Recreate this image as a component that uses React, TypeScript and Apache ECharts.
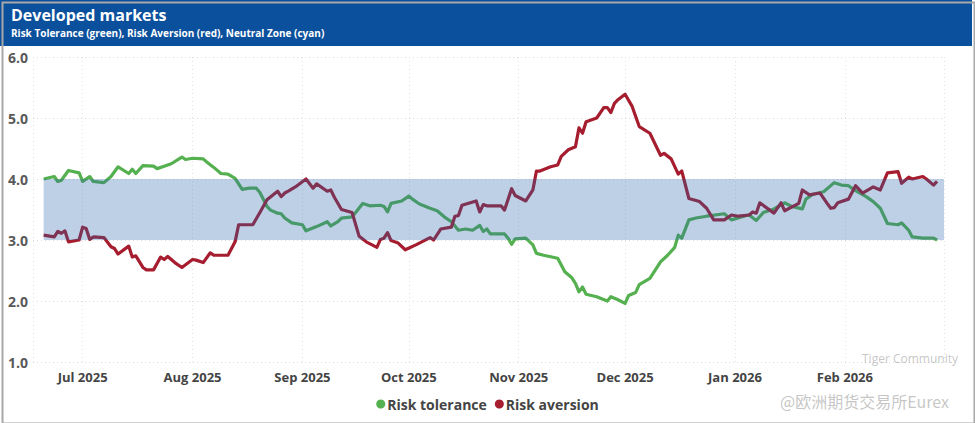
import React, { useEffect, useRef } from "react";
import * as echarts from "echarts";

const TITLE = "Developed markets";
const SUBTITLE = "Risk Tolerance (green), Risk Aversion (red), Neutral Zone (cyan)";
const SERIES_NAMES = ["Risk tolerance", "Risk aversion"];
const MONTHS = ["Jan", "Feb", "Mar", "Apr", "May", "Jun", "Jul", "Aug", "Sep", "Oct", "Nov", "Dec"];
const Y_TICKS = [1, 2, 3, 4, 5, 6];
const NEUTRAL_ZONE = [3, 4];
const NEUTRAL_ZONE_START = "2025-06-20";
const X_START = "2025-06-17";
const X_END = "2026-02-28T23:00";

const toleranceDates = [
  "2025-06-20","2025-06-23","2025-06-24","2025-06-25","2025-06-27","2025-06-30",
  "2025-07-01","2025-07-03","2025-07-04","2025-07-07","2025-07-09","2025-07-11","2025-07-14","2025-07-15","2025-07-16","2025-07-18","2025-07-21","2025-07-22","2025-07-24","2025-07-26","2025-07-29","2025-07-30",
  "2025-08-01","2025-08-04","2025-08-05","2025-08-07","2025-08-09","2025-08-11","2025-08-13","2025-08-15","2025-08-17","2025-08-19","2025-08-20","2025-08-22","2025-08-23","2025-08-25","2025-08-26","2025-08-27","2025-08-29",
  "2025-09-01","2025-09-02","2025-09-05","2025-09-08","2025-09-09","2025-09-11","2025-09-12","2025-09-15","2025-09-16","2025-09-18","2025-09-20","2025-09-23","2025-09-24","2025-09-25","2025-09-26","2025-09-29",
  "2025-10-01","2025-10-02","2025-10-04","2025-10-07","2025-10-09","2025-10-11","2025-10-13","2025-10-15","2025-10-17","2025-10-19","2025-10-21","2025-10-22","2025-10-23","2025-10-24","2025-10-28","2025-10-29","2025-10-30","2025-10-31",
  "2025-11-03","2025-11-05","2025-11-06","2025-11-08","2025-11-12","2025-11-14","2025-11-16","2025-11-17","2025-11-18","2025-11-19","2025-11-20","2025-11-23","2025-11-26","2025-11-27","2025-11-29",
  "2025-12-01","2025-12-02","2025-12-04","2025-12-05","2025-12-08","2025-12-11","2025-12-13","2025-12-15","2025-12-16","2025-12-17","2025-12-19","2025-12-21","2025-12-24","2025-12-29","2025-12-31",
  "2026-01-04","2026-01-05","2026-01-07","2026-01-09","2026-01-12","2026-01-15","2026-01-17","2026-01-20","2026-01-21","2026-01-23","2026-01-26","2026-01-29","2026-01-31",
  "2026-02-02","2026-02-04","2026-02-07","2026-02-09","2026-02-11","2026-02-13","2026-02-16","2026-02-17","2026-02-19","2026-02-20","2026-02-23","2026-02-26","2026-02-27"
];
const toleranceValues = [
  4.00,4.04,3.96,3.98,4.14,4.10,
  3.96,4.04,3.96,3.94,4.04,4.20,4.09,4.16,4.09,4.22,4.21,4.17,4.21,4.25,4.36,4.32,
  4.34,4.33,4.28,4.19,4.09,4.08,4.01,3.83,3.85,3.85,3.78,3.55,3.49,3.44,3.43,3.36,3.28,
  3.25,3.15,3.22,3.30,3.23,3.30,3.36,3.38,3.45,3.60,3.56,3.57,3.55,3.46,3.60,3.64,
  3.72,3.67,3.59,3.52,3.48,3.38,3.30,3.16,3.18,3.16,3.24,3.14,3.18,3.10,3.10,3.03,2.93,3.02,
  3.03,2.92,2.78,2.75,2.70,2.48,2.38,2.29,2.15,2.23,2.11,2.07,2.00,2.07,2.02,
  1.96,2.09,2.14,2.27,2.37,2.64,2.75,2.88,3.08,3.03,3.33,3.36,3.39,3.43,3.33,
  3.40,3.41,3.32,3.45,3.51,3.61,3.55,3.51,3.67,3.75,3.79,3.94,3.90,
  3.89,3.81,3.71,3.63,3.52,3.27,3.25,3.28,3.16,3.05,3.03,3.03,3.00
];

const aversionDates = [
  "2025-06-20","2025-06-23","2025-06-24","2025-06-25","2025-06-26","2025-06-27","2025-06-30",
  "2025-07-01","2025-07-02","2025-07-03","2025-07-04","2025-07-07","2025-07-09","2025-07-10","2025-07-11","2025-07-14","2025-07-15","2025-07-16","2025-07-18","2025-07-19","2025-07-21","2025-07-23","2025-07-24","2025-07-25","2025-07-27","2025-07-29",
  "2025-08-01","2025-08-02","2025-08-04","2025-08-06","2025-08-07","2025-08-11","2025-08-13","2025-08-14","2025-08-18","2025-08-20","2025-08-22","2025-08-25","2025-08-26","2025-08-27","2025-08-28","2025-08-30",
  "2025-09-02","2025-09-04","2025-09-05","2025-09-08","2025-09-09","2025-09-10","2025-09-12","2025-09-15","2025-09-17","2025-09-19","2025-09-22","2025-09-23","2025-09-24","2025-09-25","2025-09-26","2025-09-28","2025-09-30",
  "2025-10-03","2025-10-07","2025-10-08","2025-10-10","2025-10-13","2025-10-14","2025-10-15","2025-10-16","2025-10-20","2025-10-21","2025-10-22","2025-10-23","2025-10-27","2025-10-28","2025-10-30","2025-10-31",
  "2025-11-03","2025-11-05","2025-11-06","2025-11-07","2025-11-10","2025-11-12","2025-11-13","2025-11-15","2025-11-17","2025-11-18","2025-11-19","2025-11-20","2025-11-23","2025-11-25","2025-11-26","2025-11-27","2025-11-28","2025-11-29",
  "2025-12-01","2025-12-03","2025-12-05","2025-12-08","2025-12-11","2025-12-12","2025-12-14","2025-12-16","2025-12-17","2025-12-19","2025-12-22","2025-12-24","2025-12-26","2025-12-29","2025-12-31",
  "2026-01-02","2026-01-05","2026-01-06","2026-01-07","2026-01-08","2026-01-12","2026-01-14","2026-01-15","2026-01-19","2026-01-20","2026-01-22","2026-01-25","2026-01-27","2026-01-28","2026-01-29","2026-01-30",
  "2026-02-02","2026-02-04","2026-02-06","2026-02-09","2026-02-11","2026-02-13","2026-02-16","2026-02-17","2026-02-19","2026-02-20","2026-02-23","2026-02-24","2026-02-26","2026-02-27"
];
const aversionValues = [
  3.08,3.05,3.14,3.11,3.15,2.97,3.00,
  3.21,3.19,3.01,3.05,3.04,2.89,2.86,2.77,2.90,2.72,2.74,2.55,2.51,2.51,2.72,2.68,2.73,2.63,2.55,
  2.68,2.67,2.63,2.79,2.75,2.75,2.97,3.25,3.25,3.45,3.66,3.80,3.71,3.77,3.80,3.87,
  4.00,3.85,3.92,3.80,3.82,3.70,3.50,3.45,3.06,2.97,2.88,3.01,3.03,3.12,2.99,2.95,2.84,
  2.92,3.04,3.00,3.18,3.21,3.39,3.40,3.57,3.64,3.46,3.58,3.56,3.56,3.49,3.84,3.73,
  3.64,3.82,4.13,4.13,4.20,4.23,4.37,4.48,4.53,4.84,4.75,4.94,5.00,5.17,5.17,5.09,5.24,5.30,
  5.39,5.19,4.86,4.75,4.39,4.42,4.33,4.08,4.13,3.68,3.63,3.52,3.33,3.33,3.41,
  3.39,3.41,3.46,3.44,3.61,3.44,3.61,3.48,3.60,3.82,3.74,3.77,3.60,3.52,3.53,3.61,
  3.67,3.89,3.77,3.87,3.82,4.10,4.12,3.93,4.03,4.00,4.04,4.00,3.90,3.96
];

const COLORS = { tolerance: "#55b04f", aversion: "#a51d2f", band: "rgba(40,100,170,0.3)", header: "#0b509c" };
const FONT = "'Open Sans', 'Noto Sans', sans-serif";

function ts(s: string): number {
  const [datePart, timePart] = s.split("T");
  const [y, m, d] = datePart.split("-").map(Number);
  const h = timePart ? Number(timePart.split(":")[0]) : 0;
  return new Date(y, m - 1, d, h).getTime();
}

export default function App() {
  const ref = useRef<HTMLDivElement>(null);
  useEffect(() => {
    if (!ref.current) return;
    const chart = echarts.init(ref.current, null, { renderer: "svg" });
    const tol = toleranceDates.map((d, i) => [ts(d), toleranceValues[i]]);
    const ave = aversionDates.map((d, i) => [ts(d), aversionValues[i]]);
    chart.setOption({
      animation: false,
      backgroundColor: "#fff",
      textStyle: { fontFamily: FONT },
      graphic: [
        { type: "rect", left: 0, top: 0, z: 0, shape: { width: 972, height: 46 }, style: { fill: COLORS.header } },
        { type: "rect", left: 0, top: 0, z: 100, silent: true, shape: { width: 972, height: 421 }, style: { fill: "none", stroke: "#a8a8a8", lineWidth: 2 } },
        { type: "text", left: 862, top: 352, z: 100, style: { text: "Tiger Community", fill: "rgba(150,150,150,0.55)", font: "12px 'Open Sans', sans-serif" } },
        { type: "text", left: 780, top: 393, z: 100, style: { text: "@欧洲期货交易所Eurex", fill: "rgba(160,160,160,0.6)", font: "16px 'Noto Sans CJK SC', sans-serif" } }
      ],
      title: {
        text: TITLE,
        subtext: SUBTITLE,
        left: 6,
        top: 2,
        itemGap: 5,
        textStyle: { color: "#fff", fontSize: 16, fontWeight: "bold", fontFamily: FONT },
        subtextStyle: { color: "#fff", fontSize: 10, fontWeight: "bold", fontFamily: FONT }
      },
      legend: {
        data: SERIES_NAMES,
        bottom: 7,
        left: "center",
        icon: "circle",
        itemWidth: 9,
        itemHeight: 9,
        itemGap: 8,
        textStyle: { color: "#444", fontSize: 14, fontWeight: "bold", fontFamily: FONT, padding: [0, 0, 0, -3] }
      },
      grid: { left: 33, right: 31, top: 57, bottom: 61, containLabel: false },
      xAxis: {
        type: "time",
        min: ts(X_START),
        max: ts(X_END),
        minInterval: 28 * 86400000,
        splitNumber: 9,
        axisLine: { show: false },
        axisTick: { show: false },
        axisLabel: {
          color: "#444",
          fontSize: 13,
          fontWeight: "bold",
          fontFamily: FONT,
          margin: 8,
          formatter: (v: number) => {
            const d = new Date(v);
            return MONTHS[d.getMonth()] + " " + d.getFullYear();
          }
        },
        splitLine: { show: true, lineStyle: { color: "#e2e2e2", type: [1, 3], width: 1 } }
      },
      yAxis: {
        type: "value",
        min: Y_TICKS[0],
        max: Y_TICKS[Y_TICKS.length - 1],
        interval: 1,
        axisLine: { show: false },
        axisTick: { show: false },
        axisLabel: {
          color: "#595959",
          fontSize: 14,
          fontWeight: "bold",
          fontFamily: FONT,
          margin: 5,
          formatter: (v: number) => v.toFixed(1)
        },
        splitLine: { show: true, lineStyle: { color: "#dcdcdc", type: [1, 3], width: 1 } }
      },
      series: [
        {
          name: SERIES_NAMES[0],
          type: "line",
          data: tol,
          showSymbol: false,
          symbol: "circle",
          z: 2,
          color: COLORS.tolerance,
          lineStyle: { width: 3.2, color: COLORS.tolerance, join: "round" }
        },
        {
          name: SERIES_NAMES[1],
          type: "line",
          data: ave,
          showSymbol: false,
          symbol: "circle",
          z: 3,
          color: COLORS.aversion,
          lineStyle: { width: 3.2, color: COLORS.aversion, join: "round" }
        },
        {
          name: "Neutral zone",
          type: "custom",
          z: 10,
          silent: true,
          data: [[ts(NEUTRAL_ZONE_START), ts(X_END), NEUTRAL_ZONE[0], NEUTRAL_ZONE[1]]],
          encode: { x: [0, 1], y: [2, 3] },
          renderItem: (params: any, api: any) => {
            const p1 = api.coord([api.value(0), api.value(3)]);
            const p2 = api.coord([api.value(1), api.value(2)]);
            return {
              type: "rect",
              shape: { x: p1[0], y: p1[1], width: p2[0] - p1[0], height: p2[1] - p1[1] },
              style: { fill: COLORS.band }
            };
          }
        }
      ]
    });
    return () => chart.dispose();
  }, []);
  return <div ref={ref} style={{ position: "fixed", left: 0, top: 0, width: 975, height: 423 }} />;
}
